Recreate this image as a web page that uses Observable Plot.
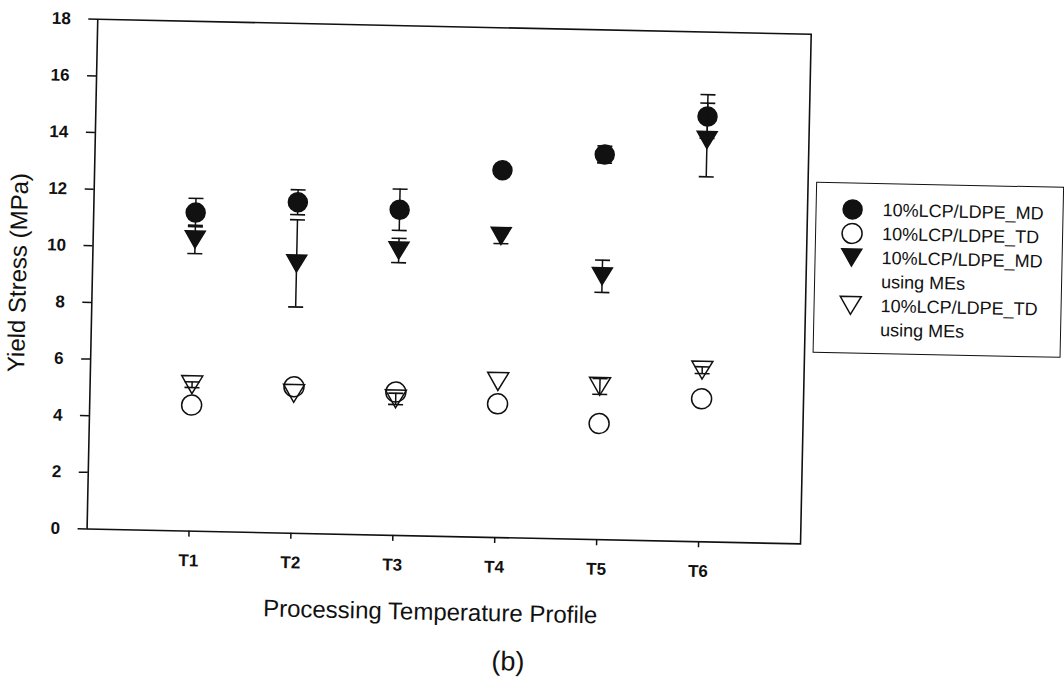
<!DOCTYPE html>
<html>
<head>
<meta charset="utf-8">
<script src="https://cdn.jsdelivr.net/npm/d3@7"></script>
<script src="https://cdn.jsdelivr.net/npm/@observablehq/plot@0.6"></script>
<style>
  html, body { margin: 0; padding: 0; background: #fff; }
  #page { position: relative; width: 1064px; height: 684px; overflow: hidden; background: #fff; }
  #chart { position: absolute; left: 0; top: 0; width: 1064px; height: 684px;
           transform: rotate(1.2deg); transform-origin: 448.65px 281.1px;
           font-family: "Liberation Sans", Arial, sans-serif; color: #111; }
  #plot { position: absolute; left: 0; top: 0; }
  #plot svg text { font-family: "Liberation Sans", Arial, sans-serif; }
  #legend { position: absolute; left: 814px; top: 174px; width: 248px; height: 171px;
            border: 1.6px solid #111; box-sizing: border-box; padding-top: 14px;
            font-size: 18px; line-height: 24px; }
  .entry { position: relative; padding-left: 66px; }
  .entry svg { position: absolute; left: 23px; top: 1px; }
  #caption { position: absolute; left: 416px; width: 200px; top: 645px; text-align: center;
             font-size: 27px; line-height: 30px; }
</style>
</head>
<body>
<div id="page"><div id="chart"><div id="plot"></div><div id="legend"></div><div id="caption">(b)</div></div></div>
<script>
// ---- data ----
const categories = ["T1", "T2", "T3", "T4", "T5", "T6"];
const mdMean    = [11.25, 11.69, 11.50, 12.97, 13.60, 15.02];
const mdErr     = [0.50, 0.44, 0.73, 0.15, 0.30, 0.77];
const tdMean    = [4.45, 5.17, 5.06, 4.72, 4.10, 5.05];
const tdErr     = [0, 0, 0, 0, 0, 0];
const meMdMean  = [10.30, 9.53, 10.06, 10.65, 9.30, 14.19];
const meMdErr   = [0.50, 1.54, 0.43, 0.27, 0.57, 1.30];
const meTdMean  = [5.17, 4.94, 4.82, 5.51, 5.41, 6.06];
const meTdErr   = [0.10, 0, 0.20, 0, 0.28, 0.12];
const yTicks    = [0, 2, 4, 6, 8, 10, 12, 14, 16, 18];
const seriesNames = ["10%LCP/LDPE_MD", "10%LCP/LDPE_TD", "10%LCP/LDPE_MD\nusing MEs", "10%LCP/LDPE_TD\nusing MEs"];

const ink = "#111";

// custom symbols
const triDown = { draw(ctx, size) { const r = Math.sqrt(size / Math.PI); const h = 1.7 * r;
  ctx.moveTo(-r, -h / 2); ctx.lineTo(r, -h / 2); ctx.lineTo(0, h / 2); ctx.closePath(); } };
const capSym = { draw(ctx, size) { const r = Math.sqrt(size / Math.PI); ctx.moveTo(-r, 0); ctx.lineTo(r, 0); } };

const series = [
  { name: seriesNames[0], mean: mdMean,   err: mdErr,   symbol: "circle", filled: true,  r: 9.5 },
  { name: seriesNames[1], mean: tdMean,   err: tdErr,   symbol: "circle", filled: false, r: 10 },
  { name: seriesNames[2], mean: meMdMean, err: meMdErr, symbol: triDown,  filled: true,  r: 10 },
  { name: seriesNames[3], mean: meTdMean, err: meTdErr, symbol: triDown,  filled: false, r: 10.5 }
];

const marks = [];
for (const s of series) {
  const rows = categories.map((c, i) => ({ x: i + 1, v: s.mean[i], e: s.err[i] }));
  const withErr = rows.filter(d => d.e > 0);
  marks.push(Plot.ruleX(withErr, { x: "x", y1: d => d.v - d.e, y2: d => d.v + d.e, stroke: ink, strokeWidth: 1.5 }));
  marks.push(Plot.dot(withErr, { x: "x", y: d => d.v - d.e, symbol: capSym, r: 7.5, stroke: ink, strokeWidth: 1.6, fill: "none" }));
  marks.push(Plot.dot(withErr, { x: "x", y: d => d.v + d.e, symbol: capSym, r: 7.5, stroke: ink, strokeWidth: 1.6, fill: "none" }));
  marks.push(Plot.dot(rows, { x: "x", y: "v", symbol: s.symbol, r: s.r,
    fill: s.filled ? ink : "none", stroke: ink, strokeWidth: 1.5 }));
}

const plot = Plot.plot({
  width: 820, height: 640,
  marginLeft: 91.85, marginRight: 14.55, marginTop: 26.2, marginBottom: 104,
  style: { fontFamily: "'Liberation Sans', Arial, sans-serif", fontSize: "17px", color: ink, background: "#fff" },
  x: { domain: [0, 7], axis: null },
  y: { domain: [0, 18], axis: null },
  marks: [
    Plot.axisY({ ticks: yTicks, tickSize: 9, tickPadding: 18, label: null, stroke: ink, strokeWidth: 1.5,
                 fontSize: 17, fontWeight: "bold", fill: ink }),
    Plot.axisX({ ticks: categories.map((c, i) => i + 1), tickFormat: i => categories[i - 1], tickSize: 6, tickPadding: 17,
                 label: null, stroke: ink, strokeWidth: 1.5, fontSize: 17, fontWeight: "bold", fill: ink }),
    Plot.frame({ stroke: ink, strokeWidth: 1.6 }),
    ...marks,
    Plot.text(["Processing Temperature Profile"], { frameAnchor: "bottom", dy: 76, dx: -12, fontSize: 24,
                 textAnchor: "middle", lineAnchor: "middle", fill: ink }),
    Plot.text(["Yield Stress (MPa)"], { frameAnchor: "left", dx: -74, rotate: -90, fontSize: 24,
                 textAnchor: "middle", lineAnchor: "middle", fill: ink })
  ]
});
document.getElementById("plot").appendChild(plot);

// ---- legend ----
const legend = d3.select("#legend");
for (const s of series) {
  const e = legend.append("div").attr("class", "entry");
  const svg = e.append("svg").attr("width", 26).attr("height", 22);
  const path = d3.symbol(typeof s.symbol === "string" ? d3.symbolCircle : s.symbol, s.r * s.r * Math.PI)();
  svg.append("path").attr("d", path).attr("transform", "translate(13,11)")
    .attr("fill", s.filled ? ink : "none").attr("stroke", ink).attr("stroke-width", 1.5);
  s.name.split("\n").forEach(line => e.append("div").text(line));
}
</script>
</body>
</html>
